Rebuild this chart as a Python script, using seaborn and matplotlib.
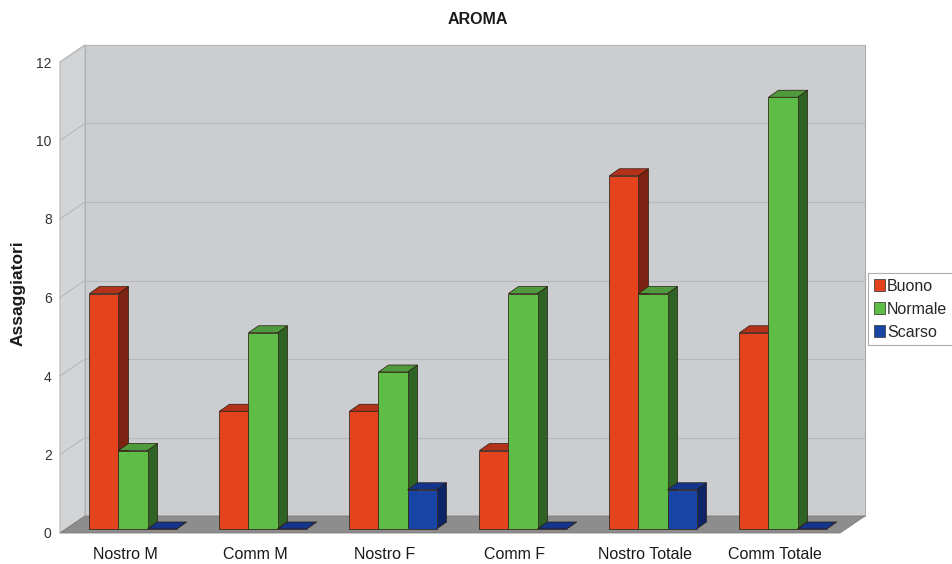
import matplotlib
matplotlib.use("Agg")
import matplotlib.pyplot as plt
from matplotlib.patches import Polygon, Patch, Rectangle
import seaborn as sns
import pandas as pd
import numpy as np

categories = ["Nostro M", "Comm M", "Nostro F", "Comm F", "Nostro Totale", "Comm Totale"]
series_names = ["Buono", "Normale", "Scarso"]
buono = [6, 3, 3, 2, 9, 5]
normale = [2, 5, 4, 6, 6, 11]
scarso = [0, 0, 1, 0, 1, 0]
y_ticks = [0, 2, 4, 6, 8, 10, 12]

front_colors = {"Buono": "#e5421e", "Normale": "#5dbd46", "Scarso": "#1845a5"}
side_colors = {"Buono": "#7c2212", "Normale": "#2f6326", "Scarso": "#0d2466"}
top_colors = {"Buono": "#b5321a", "Normale": "#4e9a3c", "Scarso": "#15358a"}

rows = []
for name, vals in zip(series_names, [buono, normale, scarso]):
    for c, v in zip(categories, vals):
        rows.append({"cat": c, "rating": name, "val": v})
df = pd.DataFrame(rows)

sns.set_theme(style="white")
plt.rcParams["font.family"] = ["Liberation Sans", "DejaVu Sans"]

W, H = 952, 564
fig = plt.figure(figsize=(W / 100, H / 100), dpi=100)
ax = fig.add_axes([60 / W, (H - 533) / H, (840 - 60) / W, (533 - 62) / H])
ax.set_xlim(-0.5, 5.5)
ax.set_ylim(0, 12)
ax.patch.set_visible(False)
for s in ax.spines.values():
    s.set_visible(False)

# pixel -> data offsets
def px2data(dxp, dyp):
    o = ax.transData.transform((0, 0))
    p = ax.transData.inverted().transform(o + np.array([dxp, dyp]))
    return p[0], p[1]

wdx, wdy = px2data(25, 17)   # wall depth
bdx, bdy = px2data(8, 4)     # bar placement offset
ddx, ddy = px2data(10, 7)    # bar depth

x0, x1 = -0.5, 5.5
ytop = 12

sns.barplot(data=df, x="cat", y="val", hue="rating", hue_order=series_names,
            order=categories, palette=front_colors, width=0.67, dodge=True,
            saturation=1, edgecolor="#3a2a20", linewidth=0.6, ax=ax,
            legend=False, errorbar=None)
bar_patches = [p for p in ax.patches if isinstance(p, Rectangle)]

# back wall
ax.add_patch(Polygon([(x0 + wdx, 0 + wdy), (x1 + wdx, 0 + wdy), (x1 + wdx, ytop + wdy), (x0 + wdx, ytop + wdy)],
                     closed=True, facecolor="#cbcdd0", edgecolor="#a9abae", lw=0.8, zorder=0, clip_on=False))
# left wall
ax.add_patch(Polygon([(x0, 0), (x0 + wdx, wdy), (x0 + wdx, ytop + wdy), (x0, ytop)],
                     closed=True, facecolor="#d3d4d6", edgecolor="#b5b6b8", lw=0.8, zorder=0.1, clip_on=False))
# gridlines
for t in y_ticks[1:]:
    ax.plot([x0 + wdx, x1 + wdx], [t + wdy, t + wdy], color="#b6b8bb", lw=0.8, zorder=0.2, clip_on=False)
    ax.plot([x0, x0 + wdx], [t, t + wdy], color="#b6b8bb", lw=0.8, zorder=0.2, clip_on=False)
# floor
ax.add_patch(Polygon([(x0, 0), (x1, 0), (x1 + wdx, wdy), (x0 + wdx, wdy)],
                     closed=True, facecolor="#8d8d8d", edgecolor="#7a7a7a", lw=0.6, zorder=0.3, clip_on=False))

n = len(categories)
bars = []
for i, name in enumerate(series_names):
    for j in range(n):
        bars.append((name, bar_patches[i * n + j]))

bars.sort(key=lambda b: b[1].get_x())
for k, (name, p) in enumerate(bars):
    x, w, h = p.get_x() + bdx, p.get_width(), p.get_height()
    y = bdy
    p.set_xy((x, y))
    p.set_clip_on(False)
    z = 2 + 3 * k
    p.set_zorder(z + 2)
    side = Polygon([(x + w, y), (x + w + ddx, y + ddy), (x + w + ddx, y + h + ddy), (x + w, y + h)],
                   closed=True, facecolor=side_colors[name], edgecolor="#2a1a10", lw=0.5, zorder=z, clip_on=False)
    top = Polygon([(x, y + h), (x + w, y + h), (x + w + ddx, y + h + ddy), (x + ddx, y + h + ddy)],
                  closed=True, facecolor=top_colors[name], edgecolor="#2a1a10", lw=0.5, zorder=z + 1, clip_on=False)
    ax.add_patch(side)
    ax.add_patch(top)

ax.set_xlim(x0, x1)
ax.set_ylim(0, 12)
ax.set_yticks(y_ticks)
ax.set_yticklabels([str(t) for t in y_ticks])
ax.tick_params(axis="y", length=0, pad=6, labelsize=10, labelcolor="#333333")
ax.tick_params(axis="x", length=0, pad=10, labelsize=11.5, labelcolor="#1a1a1a")
ax.set_xlabel("")
ax.set_ylabel("")

fig.text(18 / W, (H - 293) / H, "Assaggiatori", rotation=90, ha="center", va="center",
         fontsize=12.5, fontweight="bold", color="#1a1a1a")
fig.text(478 / W, (H - 20) / H, "AROMA", ha="center", va="center",
         fontsize=11.5, fontweight="bold", color="#1a1a1a")

handles = [Patch(facecolor=front_colors[s], edgecolor="#444444", lw=0.6) for s in series_names]
leg = ax.legend(handles, series_names, loc="upper left",
                bbox_to_anchor=(868 / W, (H - 273) / H), bbox_transform=fig.transFigure,
                frameon=True, fancybox=False, edgecolor="#999999", facecolor="white",
                fontsize=11.5, handlelength=0.7, handleheight=0.7, handletextpad=0.15,
                borderpad=0.35, borderaxespad=0, labelspacing=0.5)
leg.get_frame().set_linewidth(0.8)

fig.savefig("out.png", dpi=100)
